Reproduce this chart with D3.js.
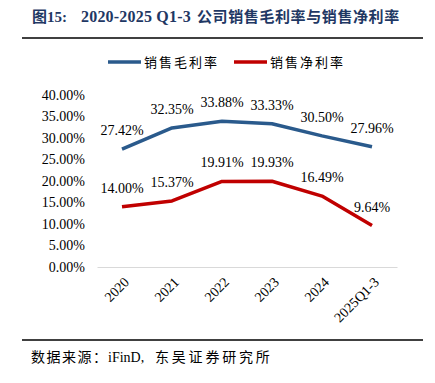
<!DOCTYPE html>
<html><head><meta charset="utf-8">
<script src="https://cdn.jsdelivr.net/npm/d3@7"></script>
<style>body{margin:0;background:#fff;} svg{display:block;}</style>
</head><body>
<svg id="c" width="435" height="383"></svg>
<script>
const categories = ["2020","2021","2022","2023","2024","2025Q1-3"];
const grossMargin = [27.42,32.35,33.88,33.33,30.50,27.96];
const netMargin = [14.00,15.37,19.91,19.93,16.49,9.64];
const yTicks = [0,5,10,15,20,25,30,35,40];
const seriesNames = ["销售毛利率","销售净利率"];
const colors = ["#2A5A8C","#C00000"];

const svg = d3.select("#c");
const font = "'Liberation Serif','Times New Roman','Noto Sans CJK SC',serif";
const cjk = "'Noto Sans CJK SC',sans-serif";

const title = svg.append("text").attr("y",22).attr("font-family","'Liberation Serif','Noto Sans CJK SC',serif")
  .attr("font-weight","bold").attr("font-size",15).attr("fill","#1F3864");
title.append("tspan").attr("x",32).text("图15:");
title.append("tspan").attr("x",81).attr("font-size",16).attr("letter-spacing",0.2).text("2020-2025 Q1-3");
title.append("tspan").attr("x",197).attr("letter-spacing",0.6).text("公司销售毛利率与销售净利率");

svg.append("line").attr("x1",22).attr("x2",423).attr("y1",38).attr("y2",38).attr("stroke","#000").attr("stroke-width",1.5);
svg.append("line").attr("x1",22).attr("x2",423).attr("y1",340).attr("y2",340).attr("stroke","#000").attr("stroke-width",1.5);
const src = svg.append("text").attr("y",362).attr("font-family",font).attr("font-size",14).attr("fill","#000");
src.append("tspan").attr("x",31).attr("letter-spacing",1.5).text("数据来源：");
src.append("tspan").attr("x",108).text("iFinD,");
src.append("tspan").attr("x",155).attr("letter-spacing",2.8).text("东吴证券研究所");

const x = d3.scaleBand().domain(categories).range([97,397]);
const y = d3.scaleLinear().domain([0,40]).range([267,95]);

// y axis labels
const ya = svg.append("g").attr("transform","translate(85,0)")
  .call(d3.axisLeft(y).tickValues(yTicks).tickSize(0).tickPadding(0).tickFormat(d=>d.toFixed(2)+"%"));
ya.select(".domain").remove();
ya.selectAll("text").attr("font-family",font).attr("font-size",14).attr("fill","#000");

// x axis
const xa = svg.append("g").attr("transform","translate(0,267)")
  .call(d3.axisBottom(x).tickSize(0).tickPadding(0));
xa.select(".domain").attr("stroke","#D9D9D9").attr("stroke-width",1);
xa.selectAll("text").attr("font-family",font).attr("font-size",14).attr("fill","#000")
  .attr("text-anchor","end").attr("dy",0)
  .attr("transform",d=>`translate(8,16) rotate(-45)`);

const series = [grossMargin, netMargin];
const line = d3.line().x((d,i)=>x(categories[i])+x.bandwidth()/2).y(d=>y(d));
series.forEach((s,k)=>{
  svg.append("path").datum(s).attr("d",line).attr("fill","none")
    .attr("stroke",colors[k]).attr("stroke-width",3.5).attr("stroke-linejoin","round");
  svg.append("g").selectAll("text").data(s).join("text")
    .attr("x",(d,i)=>x(categories[i])+x.bandwidth()/2)
    .attr("y",d=>y(d)-14)
    .attr("text-anchor","middle").attr("font-family",font).attr("font-size",14).attr("fill","#000")
    .text(d=>d.toFixed(2)+"%");
});

// legend
const lg = [{x:108,c:colors[0],t:seriesNames[0]},{x:234,c:colors[1],t:seriesNames[1]}];
lg.forEach(l=>{
  svg.append("line").attr("x1",l.x).attr("x2",l.x+33).attr("y1",62).attr("y2",62)
    .attr("stroke",l.c).attr("stroke-width",3.5);
  svg.append("text").attr("x",l.x+36).attr("y",67).attr("font-family",cjk).attr("font-size",13)
    .attr("fill","#000").attr("letter-spacing",2).text(l.t);
});
</script>
</body></html>
